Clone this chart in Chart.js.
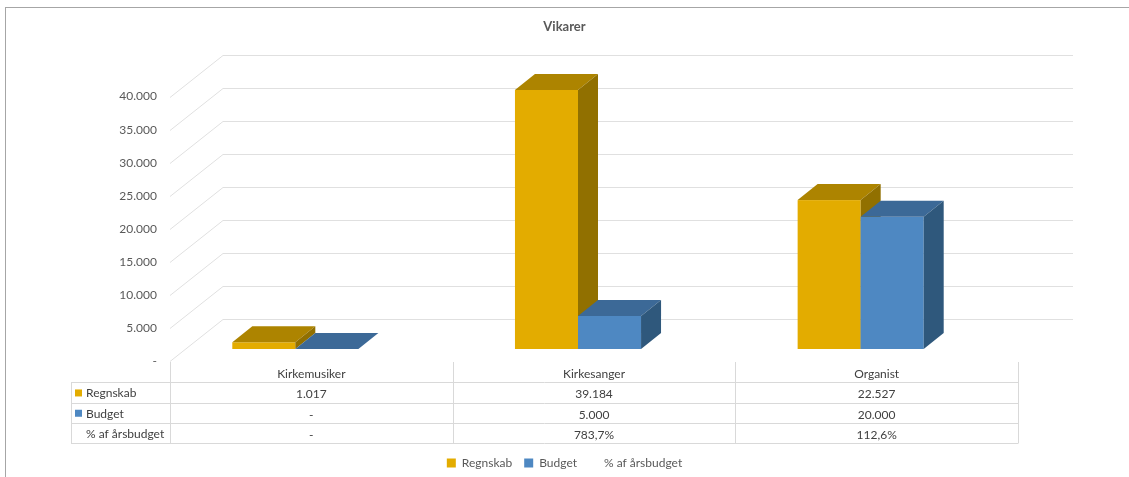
<!DOCTYPE html>
<html lang="da">
<head>
  <meta charset="UTF-8">
  <title>Vikarer</title>
  <script src="https://cdn.jsdelivr.net/npm/chart.js"></script>
  <style>
    body {
      margin: 0;
      background: #fff;
      overflow: hidden;
    }
    #frame {
      position: absolute;
      left: 5px;
      top: 7px;
      width: 1140px;
      height: 490px;
      border: 1px solid #a6a6a6;
    }
    #chart-container {
      position: absolute;
      left: 0;
      top: 0;
      width: 1129px;
      height: 477px;
    }
  </style>
</head>
<body>
  <div id="frame"></div>
  <div id="chart-container">
    <canvas id="vikarChart"></canvas>
  </div>

  <script>
    const categories = ['Kirkemusiker', 'Kirkesanger', 'Organist'];
    const regnskab = [1017, 39184, 22527];
    const budget = [0, 5000, 20000];
    const pctAarsbudget = [null, 783.7, 112.6];

    const colors = {
      regnskab: { front: '#E3AC00', top: '#AD8400', side: '#917000' },
      budget: { front: '#4E88C2', top: '#3C6997', side: '#2F587C' }
    };

    // 3D-forskydninger (bagvæg og søjledybde)
    const wall = { dx: 53, dy: -42 };
    const bar = { dx: 20, dy: -16, shiftX: -16, shiftY: -12 };

    const font = 'Lato, "Open Sans", sans-serif';

    function tal(v) {
      if (v === null || v === 0) return '-';
      return String(v).replace(/\B(?=(\d{3})+(?!\d))/g, '.');
    }

    function procent(v) {
      if (v === null) return '-';
      return v.toFixed(1).replace('.', ',') + '%';
    }

    function poly(ctx, pts, color) {
      ctx.beginPath();
      ctx.moveTo(pts[0][0], pts[0][1]);
      for (let i = 1; i < pts.length; i++) ctx.lineTo(pts[i][0], pts[i][1]);
      ctx.closePath();
      ctx.fillStyle = color;
      ctx.fill();
    }

    const threeD = {
      id: 'threeD',
      beforeDatasetsDraw(chart) {
        const ctx = chart.ctx;
        const area = chart.chartArea;
        const y = chart.scales.y;

        // gitterlinjer på sidevæg og bagvæg
        ctx.save();
        ctx.strokeStyle = '#e0e0e0';
        ctx.lineWidth = 1;
        y.ticks.forEach(t => {
          const py = Math.round(y.getPixelForValue(t.value)) + 0.5;
          ctx.beginPath();
          ctx.moveTo(area.left, py);
          ctx.lineTo(area.left + wall.dx, py + wall.dy);
          ctx.lineTo(area.right + wall.dx + 2, py + wall.dy);
          ctx.stroke();
        });

        // søjler
        const sets = [colors.regnskab, colors.budget];
        categories.forEach((c, i) => {
          sets.forEach((col, d) => {
            const el = chart.getDatasetMeta(d).data[i];
            const l = el.x - el.width / 2 + bar.shiftX;
            const r = el.x + el.width / 2 + bar.shiftX;
            const t = el.y + bar.shiftY;
            const b = el.base + bar.shiftY;
            ctx.fillStyle = col.front;
            ctx.fillRect(l, t, r - l, b - t);
            poly(ctx, [[l, t], [r, t], [r + bar.dx, t + bar.dy], [l + bar.dx, t + bar.dy]], col.top);
            poly(ctx, [[r, t], [r + bar.dx, t + bar.dy], [r + bar.dx, b + bar.dy], [r, b]], col.side);
          });
        });
        ctx.restore();
        return false;
      },
      afterDraw(chart) {
        // datatabel under grafen
        const ctx = chart.ctx;
        const x = chart.scales.x;
        const top = chart.chartArea.bottom + 1;
        const rowH = 20.3;
        const left = x.left - 99;
        const colW = (x.right - x.left) / categories.length;
        const line = v => Math.round(v) + 0.5;

        ctx.save();
        ctx.strokeStyle = '#d9d9d9';
        ctx.lineWidth = 1;
        ctx.beginPath();
        for (let r = 1; r <= 4; r++) {
          ctx.moveTo(left, line(top + r * rowH));
          ctx.lineTo(x.right, line(top + r * rowH));
        }
        ctx.moveTo(line(left), line(top + rowH));
        ctx.lineTo(line(left), line(top + 4 * rowH));
        for (let k = 0; k <= categories.length; k++) {
          ctx.moveTo(line(x.left + k * colW), top);
          ctx.lineTo(line(x.left + k * colW), line(top + 4 * rowH));
        }
        ctx.stroke();

        ctx.font = '12px ' + font;
        ctx.fillStyle = '#404040';
        ctx.textBaseline = 'middle';
        ctx.textAlign = 'center';
        const rows = [
          categories,
          regnskab.map(tal),
          budget.map(tal),
          pctAarsbudget.map(procent)
        ];
        rows.forEach((vals, r) => {
          vals.forEach((v, k) => {
            ctx.fillText(v, x.getPixelForValue(k), top + r * rowH + rowH / 2 + 2);
          });
        });

        const heads = [
          ['Regnskab', colors.regnskab.front],
          ['Budget', colors.budget.front],
          ['% af årsbudget', null]
        ];
        ctx.textAlign = 'left';
        heads.forEach((h, n) => {
          const cy = top + (n + 1) * rowH + rowH / 2;
          if (h[1]) {
            ctx.fillStyle = h[1];
            ctx.fillRect(left + 4, cy - 3, 7, 7);
          }
          ctx.fillStyle = '#404040';
          ctx.fillText(h[0], left + 15, cy + 1);
        });
        ctx.restore();
      }
    };

    const ctx = document.getElementById('vikarChart').getContext('2d');
    new Chart(ctx, {
      type: 'bar',
      data: {
        labels: categories,
        datasets: [
          { label: 'Regnskab', data: regnskab, backgroundColor: colors.regnskab.front },
          { label: 'Budget', data: budget, backgroundColor: colors.budget.front },
          {
            type: 'line', label: '% af årsbudget', data: pctAarsbudget,
            backgroundColor: 'rgba(0,0,0,0)', borderColor: 'rgba(0,0,0,0)',
            borderWidth: 0, pointRadius: 0, showLine: false
          }
        ]
      },
      options: {
        responsive: true,
        maintainAspectRatio: false,
        animation: false,
        datasets: {
          bar: { categoryPercentage: 0.446, barPercentage: 1 }
        },
        layout: { padding: { left: 0, right: 0, top: 0, bottom: -2 } },
        scales: {
          x: {
            grid: { display: false },
            border: { display: false },
            ticks: { display: false },
            afterFit: s => { s.height = 84; }
          },
          y: {
            min: 0,
            max: 40000,
            grid: { display: false, drawTicks: false },
            border: { display: false },
            ticks: {
              stepSize: 5000,
              padding: 13,
              color: '#595959',
              font: { family: font, size: 12 },
              callback: v => tal(v)
            },
            afterFit: s => { s.width = 170; }
          },
          // tom akse til højre, giver plads til bagvæggen
          yRight: {
            type: 'linear',
            position: 'right',
            grid: { display: false, drawTicks: false },
            border: { display: false },
            ticks: { display: false },
            afterFit: s => { s.width = 111; }
          }
        },
        plugins: {
          title: {
            display: true,
            text: 'Vikarer',
            color: '#595959',
            font: { family: font, size: 13, weight: 'bold' },
            padding: { top: 19, bottom: 62 }
          },
          legend: {
            position: 'bottom',
            labels: {
              color: '#595959',
              font: { family: font, size: 12 },
              boxWidth: 9,
              boxHeight: 9,
              padding: 12
            }
          },
          tooltip: { enabled: false }
        }
      },
      plugins: [threeD]
    });
  </script>
</body>
</html>
